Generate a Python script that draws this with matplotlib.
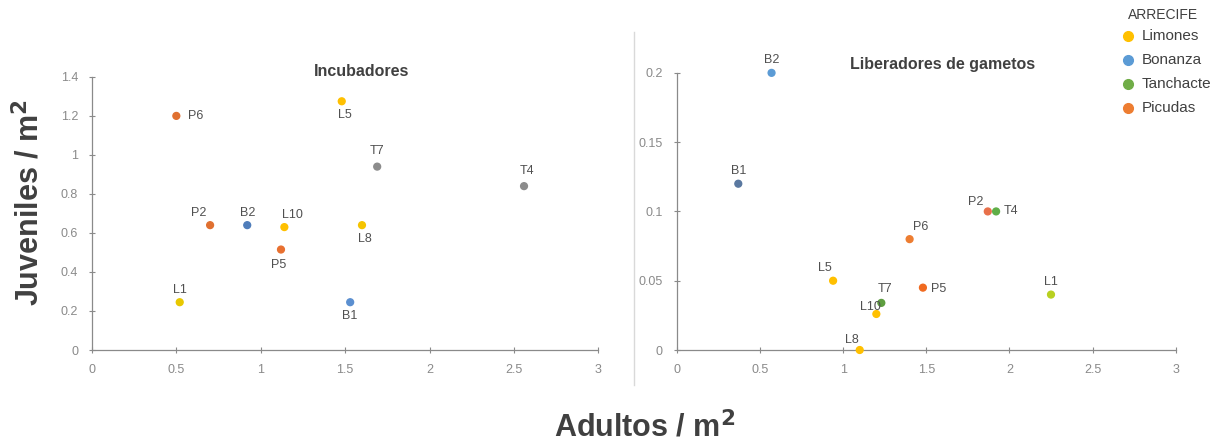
import matplotlib
matplotlib.use("Agg")
import matplotlib.pyplot as plt
from matplotlib.lines import Line2D

plt.rcParams['font.family'] = ['Liberation Sans', 'DejaVu Sans']

# colours per reef
reefs = ["Limones", "Bonanza", "Tanchacte", "Picudas"]
reef_colors = ["#FFC000", "#5B9BD5", "#70AD47", "#ED7D31"]

# Incubadores (left panel)
inc_labels = ["P6", "L5", "T7", "T4", "P2", "B2", "L10", "L8", "P5", "L1", "B1"]
inc_x = [0.50, 1.48, 1.69, 2.56, 0.70, 0.92, 1.14, 1.60, 1.12, 0.52, 1.53]
inc_y = [1.20, 1.275, 0.94, 0.84, 0.64, 0.64, 0.63, 0.64, 0.515, 0.245, 0.245]
inc_colors = ["#E07030", "#FFC000", "#8C8C8C", "#8C8C8C", "#E07030", "#4F7DBA",
              "#FFC000", "#F5C400", "#E87030", "#E8C800", "#5B8FD0"]
# label offsets in points
inc_offsets = [(14, 0), (2, -10), (0, 11), (2, 11), (-8, 9), (0, 9),
               (6, 9), (2, -10), (-2, -11), (0, 9), (0, -10)]

# Liberadores de gametos (right panel)
lib_labels = ["B2", "B1", "P2", "T4", "P6", "L5", "P5", "L1", "T7", "L10", "L8"]
lib_x = [0.57, 0.37, 1.87, 1.92, 1.40, 0.94, 1.48, 2.25, 1.23, 1.20, 1.10]
lib_y = [0.200, 0.120, 0.100, 0.100, 0.080, 0.050, 0.045, 0.040, 0.034, 0.026, 0.000]
lib_colors = ["#5B9BD5", "#5A78A0", "#E8704A", "#5FAE47", "#ED7D31", "#FFC000",
              "#F06A20", "#B8D020", "#5E9E40", "#FFC000", "#FFC000"]
lib_offsets = [(0, 9), (0, 9), (-9, 7), (11, 0), (8, 9), (-6, 9), (11, -1),
               (0, 9), (3, 10), (-4, 5), (-6, 7)]

fig = plt.figure(figsize=(12.26, 4.47), dpi=100)
ax1 = fig.add_axes([0.075, 0.217, 0.413, 0.611])
ax2 = fig.add_axes([0.552, 0.217, 0.407, 0.620])


def style(ax, ylim, yticks):
    ax.set_xlim(0, 3)
    ax.set_ylim(*ylim)
    ax.set_xticks([0, 0.5, 1, 1.5, 2, 2.5, 3])
    ax.set_xticklabels(["0", "0.5", "1", "1.5", "2", "2.5", "3"])
    ax.set_yticks(yticks)
    for s in ["top", "right"]:
        ax.spines[s].set_visible(False)
    for s in ["left", "bottom"]:
        ax.spines[s].set_color("#8a8a8a")
        ax.spines[s].set_linewidth(0.9)
    ax.tick_params(colors="#8a8a8a", labelcolor="#8a8a8a", labelsize=9,
                   length=4, width=0.8)
    ax.tick_params(axis="x", direction="inout", pad=8)
    ax.tick_params(axis="y", direction="inout", pad=8)


def plot_points(ax, xs, ys, cols, labs, offs):
    ax.scatter(xs, ys, s=24, c=cols, zorder=3, clip_on=False)
    for x, y, lab, off in zip(xs, ys, labs, offs):
        ax.annotate(lab, (x, y), xytext=off, textcoords="offset points",
                    ha="center", va="center", fontsize=9, color="#505050")


style(ax1, (0, 1.4), [0, 0.2, 0.4, 0.6, 0.8, 1, 1.2, 1.4])
ax1.set_yticklabels(["0", "0.2", "0.4", "0.6", "0.8", "1", "1.2", "1.4"])
plot_points(ax1, inc_x, inc_y, inc_colors, inc_labels, inc_offsets)

style(ax2, (0, 0.2), [0, 0.05, 0.1, 0.15, 0.2])
ax2.set_yticklabels(["0", "0.05", "0.1", "0.15", "0.2"])
plot_points(ax2, lib_x, lib_y, lib_colors, lib_labels, lib_offsets)

fig.text(362 / 1226, 1 - 72 / 447, "Incubadores", ha="center", va="center",
         fontsize=11.5, fontweight="bold", color="#404040")
fig.text(943 / 1226, 1 - 65 / 447, "Liberadores de gametos", ha="center",
         va="center", fontsize=11.5, fontweight="bold", color="#404040")

fig.text(30 / 1226, 1 - 203 / 447, "Juveniles / m$^\\mathbf{2}$", rotation=90,
         ha="center", va="center", fontsize=22, fontweight="bold", color="#404040")
fig.text(645 / 1226, 1 - 428 / 447, "Adultos / m$^\\mathbf{2}$",
         ha="center", va="center", fontsize=22, fontweight="bold", color="#404040")

# border line between charts
fig.add_artist(Line2D([634 / 1226, 634 / 1226], [1 - 385 / 447, 1 - 32 / 447],
                      transform=fig.transFigure, color="#d9d9d9", lw=1))

# legend
fig.text(1163 / 1226, 1 - 15 / 447, "ARRECIFE", ha="center", va="center",
         fontsize=10, color="#404040")
for i, (name, col) in enumerate(zip(reefs, reef_colors)):
    yy = 1 - (36 + i * 24) / 447
    fig.add_artist(Line2D([1128 / 1226], [yy], marker="o", markersize=7,
                          color=col, transform=fig.transFigure, lw=0))
    fig.text(1142 / 1226, yy, name, ha="left", va="center", fontsize=11,
             color="#404040")

fig.savefig("out.png", dpi=100)
